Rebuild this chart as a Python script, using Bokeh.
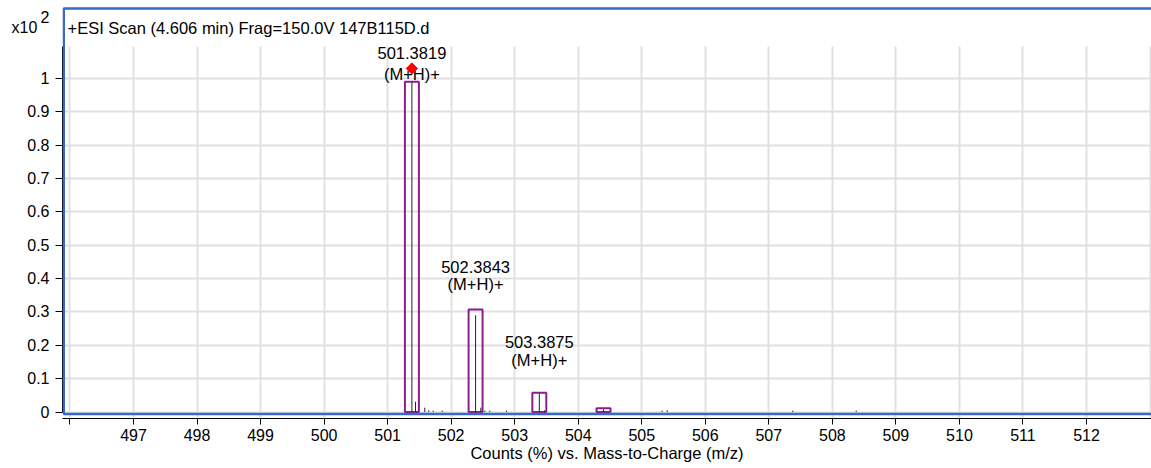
import math
from bokeh.plotting import figure
from bokeh.models import FixedTicker, BoxAnnotation, Label, Range1d
from bokeh.embed import file_html
from bokeh.resources import INLINE
from bokeh.core.properties import value

# ---------------- data ----------------
stick_mz = [501.3819, 501.439, 501.585, 501.648, 501.717, 501.859,
            502.3843, 502.467, 502.530, 502.608, 502.871,
            503.3875, 503.469, 504.398, 505.320, 505.400, 507.377, 508.375]
stick_counts = [0.99, 0.031, 0.013, 0.005, 0.004, 0.004,
                0.29, 0.013, 0.004, 0.004, 0.004,
                0.056, 0.005, 0.008, 0.004, 0.005, 0.004, 0.004]

box_mz = [501.3819, 502.3843, 503.3875, 504.398]
box_counts = [0.99, 0.307, 0.058, 0.011]

label_mz = [501.3819, 502.3843, 503.3875]
label_text = ["501.3819", "502.3843", "503.3875"]
ion_text = ["(M+H)+", "(M+H)+", "(M+H)+"]
label_mass_y = [1.075, 0.434, 0.209]
label_ion_y = [1.013, 0.385, 0.157]

marker_mz = [501.3819]
marker_y = [1.03]

x_ticks = [496, 497, 498, 499, 500, 501, 502, 503, 504, 505, 506, 507, 508, 509, 510, 511, 512]
x_tick_labels = ["", "497", "498", "499", "500", "501", "502", "503", "504", "505",
                 "506", "507", "508", "509", "510", "511", "512"]
x_grid = [496, 497, 498, 499, 500, 501, 502, 503, 504, 505, 506, 507, 508, 509, 510, 511, 512, 513]
y_ticks = [0, 0.1, 0.2, 0.3, 0.4, 0.5, 0.6, 0.7, 0.8, 0.9, 1.0]
y_tick_labels = ["0", "0.1", "0.2", "0.3", "0.4", "0.5", "0.6", "0.7", "0.8", "0.9", "1"]

title_text = "+ESI Scan (4.606 min) Frag=150.0V 147B115D.d"
x_label = "Counts (%) vs. Mass-to-Charge (m/z)"
scale_text = "x10"
scale_exp = "2"

# ---------------- layout ----------------
W, H = 1151, 468
FRAME_L, FRAME_R, FRAME_T, FRAME_B = 62, 1151, 5, 418
X_PX0, X_VAL0, X_PX_PER_UNIT = 133.0, 497.0, 63.533
ZERO_PX, Y_PX_PER_UNIT = 411.5, 333.5
X_START = X_VAL0 - (X_PX0 - FRAME_L) / X_PX_PER_UNIT
X_END = X_VAL0 + (FRAME_R - X_PX0) / X_PX_PER_UNIT
Y_START = -(FRAME_B - ZERO_PX) / Y_PX_PER_UNIT
Y_END = (ZERO_PX - FRAME_T) / Y_PX_PER_UNIT
BOX_WIDTH = 0.22
FONT = "Liberation Sans"
BLUE = "#3868c8"
PURPLE = "#8c1d8c"
GRID = "#e0e0e0"
PAD = "\u00a0\u00a0\u2009"


def px_x(px):
    return X_START + (px - FRAME_L) / X_PX_PER_UNIT


def px_y(py):
    return (ZERO_PX - py) / Y_PX_PER_UNIT


p = figure(width=W, height=H, output_backend="svg", toolbar_location=None,
           x_range=Range1d(X_START, X_END), y_range=Range1d(Y_START, Y_END),
           min_border_left=FRAME_L, min_border_right=W - FRAME_R,
           min_border_top=FRAME_T, min_border_bottom=H - FRAME_B,
           title=None)
p.outline_line_color = None
p.background_fill_color = "white"
p.border_fill_color = "white"

# grid
p.xgrid.ticker = FixedTicker(ticks=x_grid)
p.ygrid.ticker = FixedTicker(ticks=y_ticks)
p.grid.grid_line_color = GRID
p.grid.grid_line_width = 2

# white cover over the grid in the title strip
cover = BoxAnnotation(bottom=px_y(46), fill_color="white", fill_alpha=1.0,
                      line_alpha=0, level="underlay")
p.add_layout(cover)

# axes
xa = p.xaxis[0]
xa.ticker = FixedTicker(ticks=x_ticks)
xa.major_label_overrides = dict(zip(x_ticks, x_tick_labels))
xa.major_tick_out = 6
xa.major_tick_in = 0
xa.minor_tick_out = 0
xa.minor_tick_in = 0
xa.axis_line_color = "black"
xa.major_tick_line_color = "black"
xa.major_label_text_font = FONT
xa.major_label_text_font_size = "16px"
xa.major_label_text_color = "black"
xa.major_label_standoff = 4
xa.axis_label = x_label
xa.axis_label_text_font = FONT
xa.axis_label_text_font_size = "16.5px"
xa.axis_label_text_font_style = "normal"
xa.axis_label_text_color = "black"
xa.axis_label_standoff = 0

# y axis: value ticks carry the tick marks (as minor ticks); the scale factor
# "x10 2" is drawn as two extra unmarked labels at the top of the axis
scale_pos = px_y(27)
exp_pos = px_y(17)
ya = p.yaxis[0]
ya.ticker = FixedTicker(ticks=y_ticks + [scale_pos, exp_pos], minor_ticks=y_ticks)
overrides = dict(zip(y_ticks, y_tick_labels))
overrides[scale_pos] = scale_text + PAD
overrides[exp_pos] = scale_exp
ya.major_label_overrides = overrides
ya.bounds = (0, px_y(46))
ya.major_tick_out = 0
ya.major_tick_in = 0
ya.minor_tick_out = 7
ya.minor_tick_in = 0
ya.axis_line_color = "black"
ya.minor_tick_line_color = "black"
ya.major_label_text_font = FONT
ya.major_label_text_font_size = "16px"
ya.major_label_text_color = "black"
ya.major_label_standoff = 6

# data marks
p.vbar(x=box_mz, top=box_counts, bottom=0, width=BOX_WIDTH,
       fill_color=None, line_color=PURPLE, line_width=2)
p.segment(x0=stick_mz, x1=stick_mz, y0=[0] * len(stick_mz), y1=stick_counts,
          line_color="#222222", line_width=1)

p.text(x=label_mz, y=label_mass_y, text=label_text, text_align="center",
       text_baseline="middle", text_font=value(FONT), text_font_size="16.5px",
       text_color="black")
p.text(x=label_mz, y=label_ion_y, text=ion_text, text_align="center",
       text_baseline="middle", text_font=value(FONT), text_font_size="16.5px",
       text_color="black")

p.scatter(x=marker_mz, y=marker_y, marker="square", angle=math.pi / 4, size=8,
          fill_color="red", line_color="red")

# blue frame border
border = BoxAnnotation(left=px_x(63.25), right=px_x(1153), top=px_y(8),
                       bottom=px_y(413.5), fill_alpha=0,
                       line_color=BLUE, line_alpha=1.0, line_width=2.5,
                       line_dash="solid")
p.add_layout(border)

# title
p.add_layout(Label(x=px_x(67), y=px_y(27), text=title_text, text_font=FONT,
                   text_font_size="16.5px", text_baseline="middle",
                   text_align="left", text_color="black"))

open("out.html", "w").write(file_html(p, INLINE))
